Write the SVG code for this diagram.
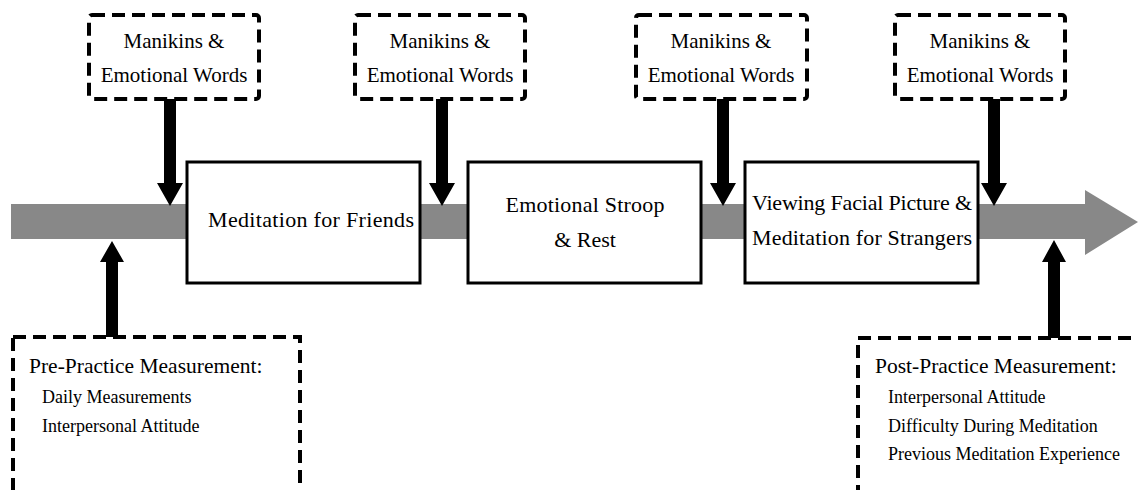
<svg xmlns="http://www.w3.org/2000/svg" width="1138" height="490" viewBox="0 0 1138 490">
<style>
.dash{fill:#fff;stroke:#000;stroke-width:4;stroke-dasharray:13 7}
.box{fill:#fff;stroke:#000;stroke-width:3}
text{font-family:"Liberation Serif",serif;fill:#000}
.t{font-size:21px;text-anchor:middle}
.b{font-size:22px;text-anchor:middle}
.h{font-size:21.5px}
.s{font-size:18px}
.arr{fill:#000}
</style>
<rect width="1138" height="490" fill="#fff"/>
<g id="timeline">
<polygon points="11,204 1085,204 1085,190 1138,222 1085,255 1085,239 11,239" fill="#888"/>
</g>
<g id="connectors">
<polygon class="arr" points="164,99 176,99 176,183 183,183 170,206 157,183 164,183"/>
<polygon class="arr" points="436,99 448,99 448,183 455,183 442,206 429,183 436,183"/>
<polygon class="arr" points="717,99 729,99 729,183 736,183 723,206 710,183 717,183"/>
<polygon class="arr" points="988,99 1000,99 1000,183 1007,183 994,206 981,183 988,183"/>
<polygon class="arr" points="106,337 118,337 118,262 124,262 112,241 100,262 106,262"/>
<polygon class="arr" points="1048,338 1060,338 1060,262 1066,262 1054,240 1042,262 1048,262"/>
</g>
<g id="m1"><rect class="dash" x="89" y="15" width="170" height="84" rx="3"/><text class="t" x="174" y="48">Manikins &amp;</text><text class="t" x="174" y="82">Emotional Words</text></g>
<g id="m2"><rect class="dash" x="355" y="15" width="170" height="84" rx="3"/><text class="t" x="440" y="48">Manikins &amp;</text><text class="t" x="440" y="82">Emotional Words</text></g>
<g id="m3"><rect class="dash" x="636" y="15" width="171" height="84" rx="3"/><text class="t" x="721" y="48">Manikins &amp;</text><text class="t" x="721" y="82">Emotional Words</text></g>
<g id="m4"><rect class="dash" x="895" y="15" width="170" height="84" rx="3"/><text class="t" x="980" y="48">Manikins &amp;</text><text class="t" x="980" y="82">Emotional Words</text></g>
<g id="step1"><rect class="box" x="187" y="162" width="233" height="121"/><text class="b" x="311" y="227" textLength="206">Meditation for Friends</text></g>
<g id="step2"><rect class="box" x="468" y="162" width="233" height="121"/><text class="b" x="585" y="212" textLength="159">Emotional Stroop</text><text class="b" x="585" y="247">&amp; Rest</text></g>
<g id="step3"><rect class="box" x="745" y="162" width="233" height="121"/><text class="b" x="862" y="210" textLength="220">Viewing Facial Picture &amp;</text><text class="b" x="862" y="245" textLength="220">Meditation for Strangers</text></g>
<g id="pre"><rect class="dash" x="13" y="337" width="287" height="180"/><text class="h" x="29" y="373">Pre-Practice Measurement:</text><text class="s" x="42" y="403">Daily Measurements</text><text class="s" x="42" y="432">Interpersonal Attitude</text></g>
<g id="post"><rect class="dash" x="858" y="338" width="300" height="180"/><text class="h" x="875" y="373">Post-Practice Measurement:</text><text class="s" x="888" y="403">Interpersonal Attitude</text><text class="s" x="888" y="432">Difficulty During Meditation</text><text class="s" x="888" y="460">Previous Meditation Experience</text></g>
</svg>
